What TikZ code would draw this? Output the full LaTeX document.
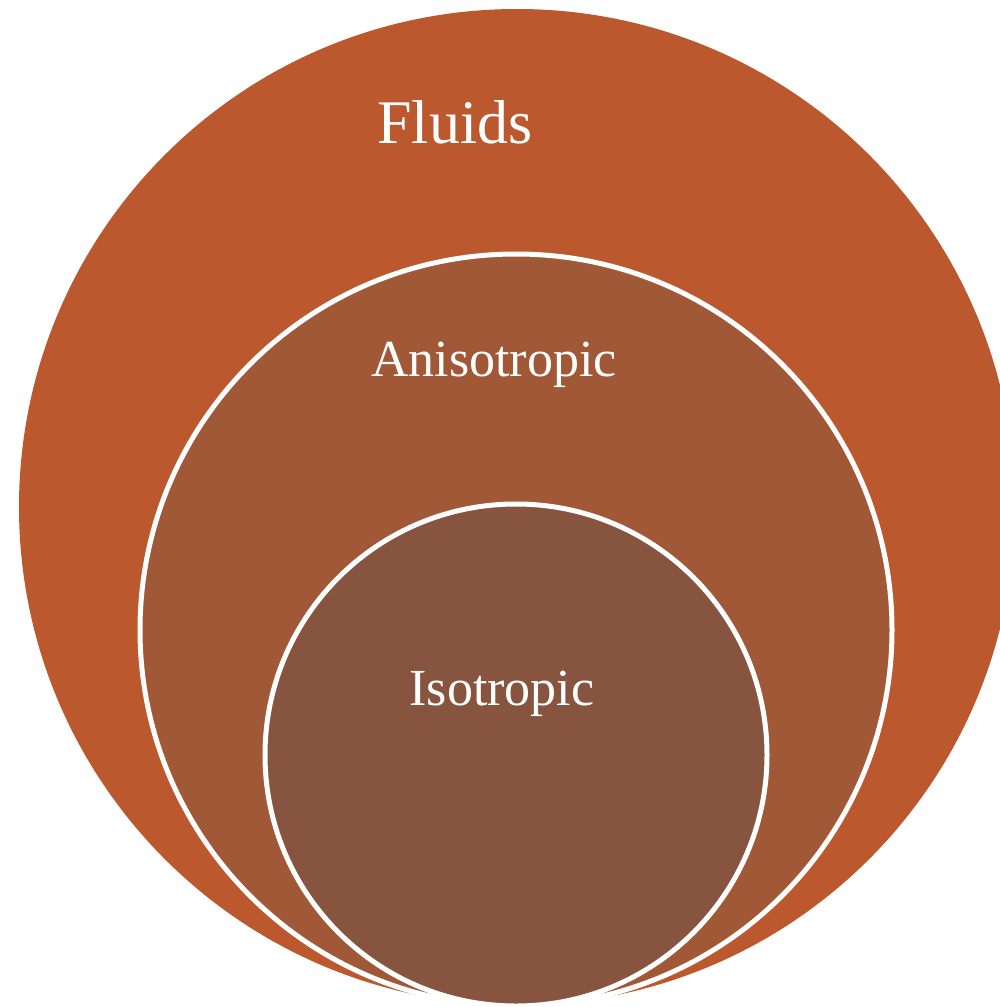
\documentclass[tikz,border=0pt]{standalone}
\usepackage{fontspec}
\setmainfont{Liberation Serif}
\usepackage{xcolor}
\usetikzlibrary{positioning}

\definecolor{fluidcol}{HTML}{BC582D}
\definecolor{anisocol}{HTML}{A05837}
\definecolor{isocol}{HTML}{87553F}

\begin{document}
\begin{tikzpicture}[x=1pt, y=-1pt,
  ring/.style={circle, inner sep=0pt, outer sep=0pt},
  outerset/.style={ring, fill=fluidcol, minimum size=996pt},
  midset/.style={ring, draw=white, line width=5pt, fill=anisocol, minimum size=752pt},
  innerset/.style={ring, draw=white, line width=5pt, fill=isocol, minimum size=502pt},
  bigtext/.style={text=white, anchor=base, font=\fontsize{62}{70}\selectfont},
  settext/.style={text=white, anchor=base, font=\fontsize{52}{60}\selectfont}
]
\useasboundingbox (0,0) rectangle (1000,1007);

% Sets
\node[outerset] (fluids) at (517,507) {};
\node[midset] (aniso) at (516,630) {};
\node[innerset] (iso) at (516,755) {};

% Labels
\node[bigtext] (fluidstext) at (455,143) {Fluids};
\node[settext] (anisotext) at (494,376) {Anisotropic};
\node[settext] (isotext) at (502,705) {Isotropic};

\end{tikzpicture}
\end{document}
